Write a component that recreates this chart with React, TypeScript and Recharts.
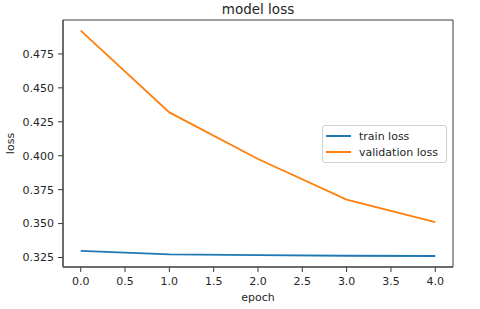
import { LineChart, Line, XAxis, YAxis, Legend, Label, ReferenceArea } from 'recharts';

const epochs = [0, 1, 2, 3, 4];
const trainLoss = [0.3299, 0.3273, 0.3268, 0.3263, 0.3261];
const valLoss = [0.4922, 0.4319, 0.3976, 0.3676, 0.351];
const xTicks = [0, 0.5, 1, 1.5, 2, 2.5, 3, 3.5, 4];
const yTicks = [0.325, 0.35, 0.375, 0.4, 0.425, 0.45, 0.475];
const xDomain = [-0.2, 4.2];
const yDomain = [0.318, 0.5];

const data = epochs.map((e, i) => ({ epoch: e, train: trainLoss[i], val: valLoss[i] }));

const font = 'DejaVu Sans, sans-serif';
const ink = '#262626';
const frame = '#3a3a3a';

function LegendBox() {
  const items = [
    { label: 'train loss', color: '#1f77b4' },
    { label: 'validation loss', color: '#ff7f0e' },
  ];
  return (
    <div
      style={{
        width: 125,
        height: 38,
        border: '1px solid #d0d0d0',
        borderRadius: 3,
        background: '#fff',
        fontFamily: font,
        fontSize: 11,
        color: ink,
        padding: '2px 0 0 3px',
        boxSizing: 'border-box',
        textAlign: 'left',
      }}
    >
      {items.map((it) => (
        <div key={it.label} style={{ display: 'flex', alignItems: 'center', height: 16 }}>
          <span style={{ width: 25, height: 2, background: it.color, marginRight: 8 }} />
          <span>{it.label}</span>
        </div>
      ))}
    </div>
  );
}

export default function App() {
  return (
    <div style={{ position: 'absolute', left: 0, top: 0, background: '#fff' }}>
      <LineChart width={480} height={309} data={data} margin={{ top: 20, right: 27, left: 0, bottom: 0 }}>
        <XAxis
          dataKey="epoch"
          type="number"
          domain={xDomain}
          ticks={xTicks}
          tickFormatter={(v: number) => v.toFixed(1)}
          height={42}
          tickSize={5}
          tickMargin={5}
          stroke={frame}
          tick={{ fill: ink, fontSize: 11, fontFamily: font }}
          interval={0}
        >
          <Label value="epoch" position="insideBottom" offset={8} fill={ink} fontSize={11} fontFamily={font} />
        </XAxis>
        <YAxis
          type="number"
          domain={yDomain}
          ticks={yTicks}
          tickFormatter={(v: number) => v.toFixed(3)}
          width={63}
          tickSize={5}
          tickMargin={4}
          stroke={frame}
          tick={{ fill: ink, fontSize: 11, fontFamily: font }}
          interval={0}
        >
          <Label value="loss" angle={-90} position="insideLeft" offset={10} fill={ink} fontSize={11} fontFamily={font} style={{ textAnchor: 'middle' }} />
        </YAxis>
        <ReferenceArea
          x1={xDomain[0]}
          x2={xDomain[1]}
          y1={yDomain[0]}
          y2={yDomain[1]}
          fill="none"
          stroke={frame}
          strokeWidth={1}
          ifOverflow="visible"
        >
          <Label value="model loss" position="top" offset={6} fill={ink} fontSize={13.5} fontFamily={font} />
        </ReferenceArea>
        <Legend
          layout="horizontal"
          verticalAlign="middle"
          align="center"
          content={<LegendBox />}
          wrapperStyle={{ left: 322, top: 125, width: 'auto', height: 'auto' }}
        />
        <Line type="linear" dataKey="train" name="train loss" stroke="#1f77b4" strokeWidth={1.8} dot={false} isAnimationActive={false} />
        <Line type="linear" dataKey="val" name="validation loss" stroke="#ff7f0e" strokeWidth={1.8} dot={false} isAnimationActive={false} />
      </LineChart>
    </div>
  );
}
